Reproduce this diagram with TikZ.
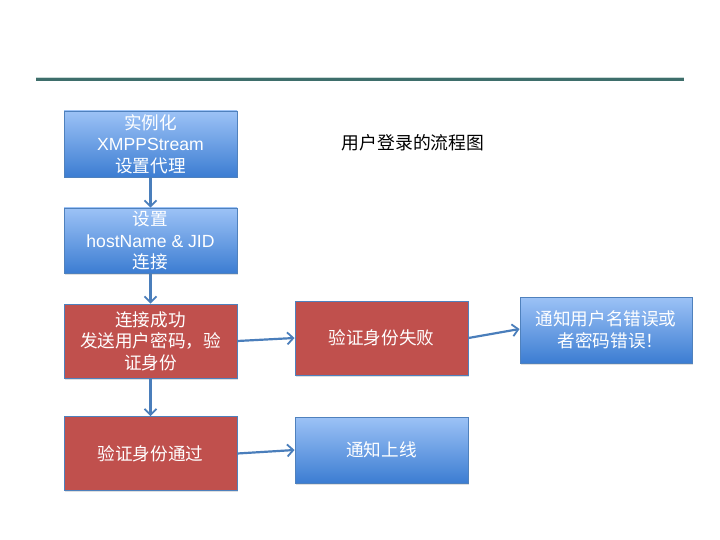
\documentclass[tikz,border=0pt]{standalone}
\usepackage{fontspec}
\setmainfont{Noto Sans CJK SC}
\newfontfamily\lat{Liberation Sans}
\usetikzlibrary{arrows.meta,shadows}
\definecolor{rulecol}{HTML}{3E6E6B}
\definecolor{rulelight}{HTML}{C9D9D6}
\definecolor{btop}{HTML}{9CC2F6}
\definecolor{bbot}{HTML}{3C7DD2}
\definecolor{redfill}{HTML}{C0504D}
\definecolor{edgecol}{HTML}{4F81BD}
\definecolor{arrowcol}{HTML}{4A7EBB}
\tikzset{
  box/.style={draw=edgecol, line width=0.9pt, minimum width=173pt, inner sep=0pt,
    text=white, font=\fontsize{17.6}{21.5}\selectfont, align=center,
    drop shadow={shadow xshift=1pt, shadow yshift=-1.5pt, opacity=0.25}},
  bluebox/.style={box, top color=btop, bottom color=bbot},
  redbox/.style={box, fill=redfill},
  arr/.style={draw=arrowcol, line width=2.2pt, -{Straight Barb[length=6pt,width=12pt,line width=1.8pt]}},
}
\begin{document}
\begin{tikzpicture}[x=1pt,y=-1pt]
\useasboundingbox[fill=white] (0,0) rectangle (720,540);
\draw[rulelight, line width=1pt] (36,77.8) -- (684,77.8);
\draw[rulecol, line width=3pt] (36,80) -- (684,80);
\node[font=\fontsize{17.8}{21}\selectfont] (title) at (413,143) {用户登录的流程图};
\node[bluebox, minimum height=66pt] (b1) at (150.5,144) {实例化\\{\lat XMPPStream}\\设置代理};
\node[bluebox, minimum height=65pt] (b2) at (150.5,240.5) {设置\\{\lat hostName \& JID}\\连接};
\node[redbox, minimum height=74pt] (b3) at (150.5,341) {连接成功\\发送用户密码，验\\证身份};
\node[redbox, minimum height=74pt] (b4) at (150.5,453.5) {验证身份通过};
\node[redbox, minimum height=74pt] (b5) at (381.5,338) {验证身份失败};
\node[bluebox, minimum width=172pt, minimum height=66pt] (b6) at (606,330) {通知用户名错误或\\\hspace{9pt}者密码错误！};
\node[bluebox, minimum height=66pt] (b7) at (381.5,450) {通知上线};
\draw[arr] (b1) -- (b2);
\draw[arr] (b2) -- (b3);
\draw[arr] (b3) -- (b4);
\draw[arr] (b3.east) -- (b5.west);
\draw[arr] (b5.east) -- ([yshift=1pt]b6.west);
\draw[arr] (b4.east) -- (b7.west);
\end{tikzpicture}
\end{document}
